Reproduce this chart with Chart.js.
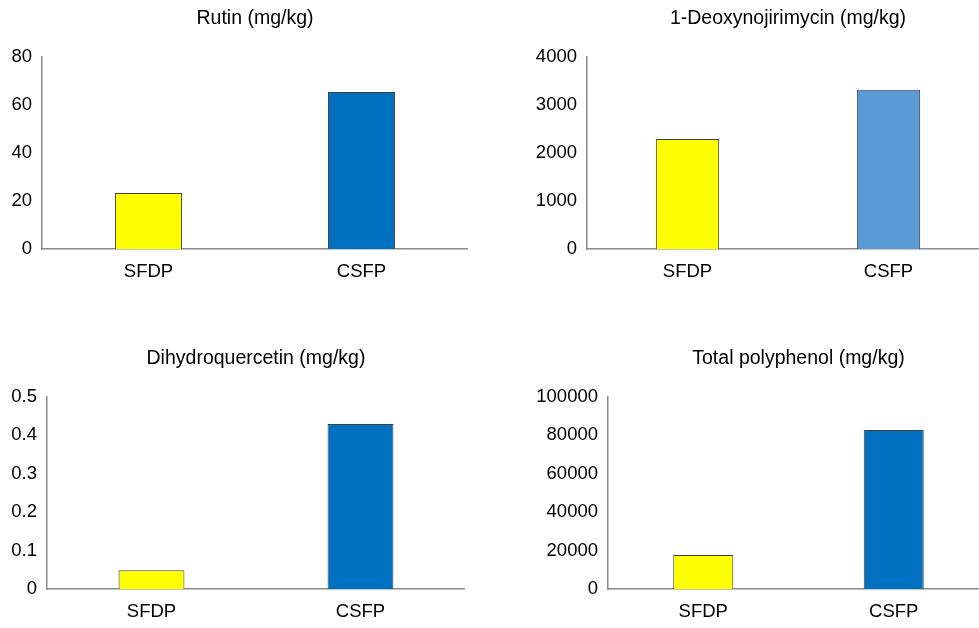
<!DOCTYPE html>
<html lang="en">
<head>
  <meta charset="UTF-8">
  <title>Polyphenol content</title>
  <script src="https://cdn.jsdelivr.net/npm/chart.js@4.4.0/dist/chart.umd.min.js"></script>
  <style>
    body {
      margin: 0;
      background: #fff;
      overflow: hidden;
    }
    #stage {
      position: relative;
      width: 979px;
      height: 628px;
      overflow: hidden;
    }
    .panel {
      position: absolute;
    }
  </style>
</head>
<body>
  <div id="stage">
    <div class="panel" style="left:0; top:0; width:468px; height:300px;"><canvas id="c1"></canvas></div>
    <div class="panel" style="left:500px; top:0; width:489px; height:300px;"><canvas id="c2"></canvas></div>
    <div class="panel" style="left:0; top:340px; width:465px; height:300px;"><canvas id="c3"></canvas></div>
    <div class="panel" style="left:500px; top:340px; width:489px; height:300px;"><canvas id="c4"></canvas></div>
  </div>

  <script>
    const categories = ['SFDP', 'CSFP'];

    const rutin = [23.3, 65.4];
    const deoxynojirimycin = [2290, 3320];
    const dihydroquercetin = [0.049, 0.43];
    const totalPolyphenol = [17700, 82800];

    const titles = [
      'Rutin (mg/kg)',
      '1-Deoxynojirimycin (mg/kg)',
      'Dihydroquercetin (mg/kg)',
      'Total polyphenol (mg/kg)'
    ];
    const yMax = [80, 4000, 0.5, 100000];
    const yStep = [20, 1000, 0.1, 20000];

    const yellow = '#FFFF00';
    const blue = '#0070C0';
    const lightBlue = '#5B9BD5';

    const fontFamily = "'Liberation Sans', Arial, sans-serif";
    const axisColor = '#8a8a8a';

    function makeChart(id, title, values, colors, max, step, axisWidth) {
      const ctx = document.getElementById(id).getContext('2d');
      return new Chart(ctx, {
        type: 'bar',
        data: {
          labels: categories,
          datasets: [{
            data: values,
            backgroundColor: colors,
            borderColor: '#404040',
            borderWidth: 1,
            categoryPercentage: 1,
            barPercentage: 0.315
          }]
        },
        options: {
          responsive: true,
          maintainAspectRatio: false,
          animation: false,
          events: [],
          layout: { padding: { left: 0, right: 0, top: 0, bottom: 4.8 } },
          plugins: {
            legend: { display: false },
            tooltip: { enabled: false },
            title: {
              display: true,
              text: title,
              fullSize: false,
              color: '#000',
              font: { family: fontFamily, size: 19.5, weight: 'normal' },
              padding: { top: 7, bottom: 26.6 }
            }
          },
          scales: {
            x: {
              grid: { display: false, drawTicks: false },
              border: { display: true, color: axisColor, width: 1.5 },
              ticks: {
                color: '#000',
                padding: 12,
                font: { family: fontFamily, size: 18.5 }
              }
            },
            y: {
              min: 0,
              max: max,
              grid: { display: false, drawTicks: false },
              border: { display: true, color: axisColor, width: 1.5 },
              ticks: {
                stepSize: step,
                color: '#000',
                padding: 10,
                font: { family: fontFamily, size: 18.5 },
                callback: v => String(+v.toFixed(6))
              },
              afterFit: scale => { scale.width = axisWidth; }
            }
          }
        }
      });
    }

    makeChart('c1', titles[0], rutin, [yellow, blue], yMax[0], yStep[0], 42);
    makeChart('c2', titles[1], deoxynojirimycin, [yellow, lightBlue], yMax[1], yStep[1], 87);
    makeChart('c3', titles[2], dihydroquercetin, [yellow, blue], yMax[2], yStep[2], 47);
    makeChart('c4', titles[3], totalPolyphenol, [yellow, blue], yMax[3], yStep[3], 108);
  </script>
</body>
</html>
